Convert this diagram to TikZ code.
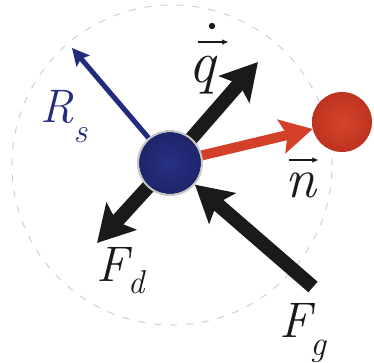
\documentclass[tikz,border=0pt]{standalone}
\usetikzlibrary{arrows.meta}
\definecolor{navy}{HTML}{232C7C}
\definecolor{navyin}{HTML}{283184}
\definecolor{navyout}{HTML}{1E256A}
\definecolor{redarr}{HTML}{D2402A}
\definecolor{redin}{HTML}{D4442B}
\definecolor{redout}{HTML}{BE3320}
\definecolor{dashgrey}{HTML}{CFCFCF}
\definecolor{ink}{HTML}{1A1A1A}
\tikzset{
  dashcirc/.style={draw=dashgrey, line width=1pt, dash pattern=on 7pt off 9pt},
  bigarrow/.style={draw=ink, line width=14pt, -{Stealth[length=36pt,width=40pt,inset=7pt]}},
  redarrow/.style={draw=redarr, line width=10pt, -{Stealth[length=32pt,width=34pt,inset=6pt]}},
  thinarrow/.style={draw=navy, line width=5pt, -{Stealth[length=17pt,width=17pt,inset=3pt]}},
  accent/.style={draw=ink, line width=1.4pt, -{Stealth[length=6pt,width=5pt,inset=1pt]}},
  lbl/.style={inner sep=0pt, outer sep=0pt, text=ink, anchor=base west},
}
\begin{document}
\begin{tikzpicture}[x=1pt,y=-1pt]
\useasboundingbox (0,0) rectangle (374,362);
% dashed sphere of influence
\draw[dashcirc] (172,165) circle[radius=160pt];
% coordinates
\coordinate (bc) at (170,163);
\coordinate (qt) at (258,62);
\coordinate (rt) at (72,48);
\coordinate (fdt) at (97,243);
\coordinate (fgs) at (313,287);
\node[circle, minimum size=60pt, inner sep=0pt, outer sep=0pt] (r) at (342,122) {};
% arrows behind the blue sphere
\draw[bigarrow] (bc) -- (qt);
\draw[bigarrow] (bc) -- (fdt);
\draw[thinarrow] (bc) -- (rt);
\draw[redarrow] (bc) -- (r);
% blue sphere
\shade[inner color=navyin, outer color=navyout] (bc) circle[radius=31pt];
\node[circle, minimum size=64pt, inner sep=0pt, outer sep=1pt, draw=gray!45, line width=2pt] (b) at (bc) {};
% gravity arrow onto the sphere
\draw[bigarrow] (fgs) -- (b);
% red sphere
\shade[inner color=redin, outer color=redout] (r.center) circle[radius=30pt];
% labels
\node[lbl, text=navy, font=\fontsize{47}{47}\selectfont\itshape] (Rs) at (40,122)
  {R\raisebox{-20pt}{\fontsize{34}{34}\selectfont s}};
\node[lbl, font=\fontsize{50}{50}\selectfont\itshape] (Fd) at (96,281)
  {F\raisebox{-12pt}{\fontsize{33}{33}\selectfont d}};
\node[lbl, font=\fontsize{50}{50}\selectfont\itshape] (Fg) at (279,337)
  {F\raisebox{-18pt}{\fontsize{35}{35}\selectfont g}};
\node[lbl, font=\fontsize{56}{56}\selectfont\itshape] (n) at (285,197) {n};
\node[lbl, font=\fontsize{60}{60}\selectfont\itshape] (q) at (188,82) {q};
% vector accents
\draw[accent] (289,160) -- (318,160);
\draw[accent] (198,42) -- (228,42);
\fill[ink] (212,26) circle[radius=3.2pt];
\end{tikzpicture}
\end{document}
